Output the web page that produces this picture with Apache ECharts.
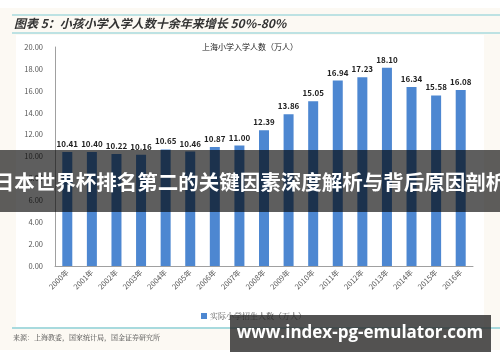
<!DOCTYPE html>
<html><head><meta charset="utf-8">
<script src="https://cdn.jsdelivr.net/npm/echarts@6/dist/echarts.min.js"></script>
<style>html,body{margin:0;padding:0;background:#fcf9f3;}#c{width:500px;height:362px;}</style>
</head><body><div id="c"></div>
<script>
const categories = ['2000年','2001年','2002年','2003年','2004年','2005年','2006年','2007年','2008年','2009年','2010年','2011年','2012年','2013年','2014年','2015年','2016年'];
const enrollment = [10.41,10.40,10.22,10.16,10.65,10.46,10.87,11.00,12.39,13.86,15.05,16.94,17.23,18.10,16.34,15.58,16.08];
const seriesName = '实际小学招生人数（万人）';
const chartTitle = '上海小学入学人数（万人）';
const headerTitle = '图表 5：小孩小学入学人数十余年来增长 50%-80%';
const sourceText = '来源：上海教委，国家统计局，国金证券研究所';
const bannerText = '日本世界杯排名第二的关键因素深度解析与背后原因剖析';
const watermark = 'www.index-pg-emulator.com';

const chart = echarts.init(document.getElementById('c'), null, {renderer:'canvas'});
const font = '"Noto Sans CJK SC", "Liberation Sans", sans-serif';
chart.setOption({
  backgroundColor: '#fcf9f3',
  animation: false,
  textStyle: {fontFamily: font},
  grid: {left: 55, right: 27, top: 47, bottom: 96},
  legend: {
    data: [seriesName], left: 196, top: 307,
    itemWidth: 6, itemHeight: 6, icon: 'rect', itemGap: 4,
    textStyle: {fontSize: 8, color: '#555', fontFamily: '"Noto Serif CJK SC", "Noto Sans CJK SC", serif', padding:[0,0,0,-2]}
  },
  xAxis: {
    type: 'category', data: categories,
    axisLine: {lineStyle: {color: '#a0a0a0', width: 1}},
    axisTick: {show: false},
    axisLabel: {rotate: 45, fontSize: 7.5, color: '#555', interval: 0, margin: 5}
  },
  yAxis: {
    type: 'value', min: 0, max: 20, interval: 2,
    axisLine: {show: true, lineStyle: {color: '#a0a0a0', width: 1}},
    axisTick: {show: false},
    splitLine: {show: false},
    axisLabel: {fontSize: 7.5, color: '#555', margin: 12, formatter: v => v.toFixed(2)}
  },
  series: [{
    name: seriesName, type: 'bar', data: enrollment, barWidth: 10,
    itemStyle: {color: '#4d87d1'},
    label: {show: true, position: 'top', fontSize: 8, fontWeight: 'bold', color: '#222', distance: 4, formatter: p => p.value.toFixed(2)}
  }],
  graphic: [
    {type: 'rect', z: -10, shape: {x: 0, y: 0, width: 500, height: 8}, style: {fill: '#ffffff'}},
    {type: 'rect', z: -10, shape: {x: 16, y: 35, width: 468, height: 292}, style: {fill: '#ffffff'}},
    {type: 'rect', z: -10, shape: {x: 0, y: 350, width: 500, height: 12}, style: {fill: '#ffffff'}},
    {type: 'line', shape: {x1: 12, y1: 15, x2: 500, y2: 15}, style: {stroke: '#7fcbd3', lineWidth: 1}},
    {type: 'line', shape: {x1: 12, y1: 33, x2: 500, y2: 33}, style: {stroke: '#7fcbd3', lineWidth: 1}},
    {type: 'text', left: 14, top: 17, style: {text: headerTitle, fontSize: 12, fontWeight: 'bold', fontStyle: 'italic', fill: '#333', fontFamily: font}},
    {type: 'text', left: 'center', top: 43, style: {text: chartTitle, fontSize: 8, fill: '#222', fontFamily: font}},
    {type: 'line', shape: {x1: 12, y1: 328, x2: 500, y2: 328}, style: {stroke: '#a8dade', lineWidth: 2}},
    {type: 'text', left: 13, top: 334, style: {text: sourceText, fontSize: 7, fill: '#444', fontFamily: '"Noto Serif CJK SC", "Noto Sans CJK SC", serif'}},
    {type: 'rect', z: 100, shape: {x: 0, y: 150, width: 500, height: 62}, style: {fill: 'rgba(0,0,0,0.63)'}},
    {type: 'text', z: 101, x: 250, y: 182, style: {text: bannerText, fontSize: 20.5, fontWeight: 'bold', fill: '#fff', align: 'center', verticalAlign: 'middle', fontFamily: font}},
    {type: 'rect', z: 100, shape: {x: 230, y: 315, width: 261, height: 37}, style: {fill: 'rgba(40,40,40,0.8)'}},
    {type: 'text', z: 101, x: 360, y: 333, style: {text: watermark, fontSize: 17, fontWeight: 'bold', fill: '#fff', align: 'center', verticalAlign: 'middle', fontFamily: '"Open Sans", "DejaVu Sans", sans-serif'}}
  ]
});
</script></body></html>
